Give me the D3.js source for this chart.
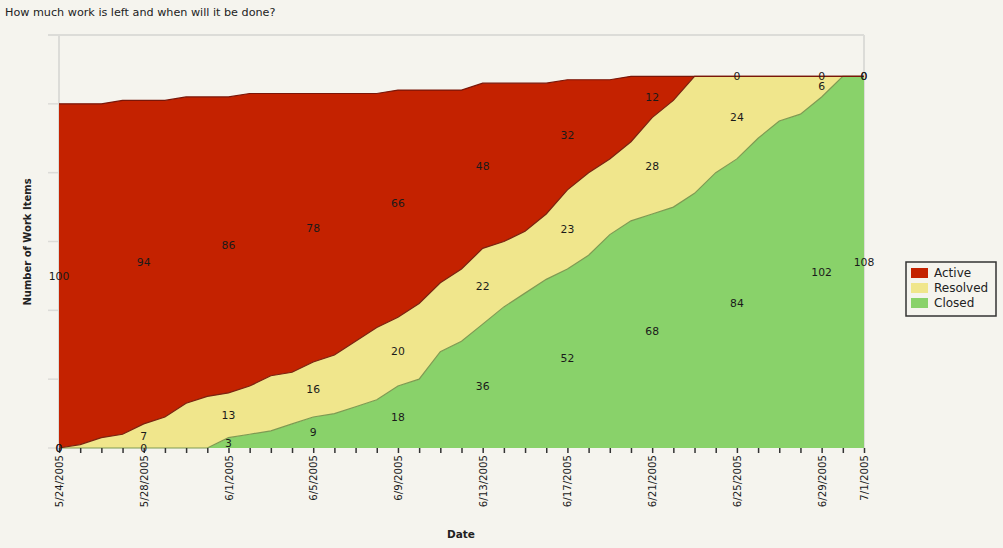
<!DOCTYPE html>
<html>
<head>
<meta charset="utf-8">
<script src="https://cdn.jsdelivr.net/npm/d3@7"></script>
<style>
  html, body { margin: 0; padding: 0; background: #F5F4EE; }
  svg { display: block; }
  text { font-family: "DejaVu Sans", Verdana, sans-serif; }
</style>
</head>
<body>
<svg id="chart" width="1003" height="548"></svg>
<script>
const title = "How much work is left and when will it be done?";
const categories = [
  "5/24/2005","5/25/2005","5/26/2005","5/27/2005","5/28/2005","5/29/2005","5/30/2005","5/31/2005",
  "6/1/2005","6/2/2005","6/3/2005","6/4/2005","6/5/2005","6/6/2005","6/7/2005","6/8/2005",
  "6/9/2005","6/10/2005","6/11/2005","6/12/2005","6/13/2005","6/14/2005","6/15/2005","6/16/2005",
  "6/17/2005","6/18/2005","6/19/2005","6/20/2005","6/21/2005","6/22/2005","6/23/2005","6/24/2005",
  "6/25/2005","6/26/2005","6/27/2005","6/28/2005","6/29/2005","6/30/2005","7/1/2005"
];
const active   = [100,99,97,97,94,92,89,87,86,85,82,81,78,76,72,68,66,62,56,52,48,46,43,38,32,27,23,19,12,7,0,0,0,0,0,0,0,0,0];
const resolved = [0,1,3,4,7,9,13,15,13,14,16,15,16,17,19,21,20,22,20,21,22,19,18,19,23,24,22,23,28,31,34,28,24,18,13,11,6,0,0];
const closed   = [0,0,0,0,0,0,0,0,3,4,5,7,9,10,12,14,18,20,28,31,36,41,45,49,52,56,62,66,68,70,74,80,84,90,95,97,102,108,108];
const tickLabels = ["5/24/2005","5/28/2005","6/1/2005","6/5/2005","6/9/2005","6/13/2005","6/17/2005","6/21/2005","6/25/2005","6/29/2005","7/1/2005"];
const yTicks = [0,20,40,60,80,100,120];
const seriesNames = ["Closed","Resolved","Active"];
const legendNames = ["Active","Resolved","Closed"];
const xTitle = "Date";
const yTitle = "Number of Work Items";

const fills = { Active: "#C42200", Resolved: "#F0E68C", Closed: "#89D26A" };
const strokes = { Active: "#7A1608", Resolved: "#7A2410", Closed: "#7E9A52" };

const svg = d3.select("#chart");
const x = d3.scalePoint().domain(categories).range([59, 864]);
const y = d3.scaleLinear().domain([0, 120]).range([448, 35]);

const table = categories.map((c, i) => ({ cat: c, Closed: closed[i], Resolved: resolved[i], Active: active[i] }));
const stacked = d3.stack().keys(seriesNames)(table);

// title
svg.append("text").attr("x", 5).attr("y", 16).attr("font-size", 11.2).attr("fill", "#222").text(title);

// frame: top border, right border, left axis line, y ticks
svg.append("line").attr("x1", 48).attr("x2", 864).attr("y1", y(120)).attr("y2", y(120)).attr("stroke", "#DCDCD8").attr("stroke-width", 2);
svg.append("line").attr("x1", 864).attr("x2", 864).attr("y1", y(120)).attr("y2", y(0)).attr("stroke", "#DCDCD8").attr("stroke-width", 2);
svg.append("line").attr("x1", 59).attr("x2", 59).attr("y1", y(120)).attr("y2", y(0)).attr("stroke", "#DCDCD8").attr("stroke-width", 2);
svg.append("g").selectAll("line").data(yTicks).join("line")
  .attr("x1", 48).attr("x2", 59).attr("y1", d => y(d)).attr("y2", d => y(d))
  .attr("stroke", "#DCDCD8").attr("stroke-width", 1.5);

// areas
const area = d3.area().x(d => x(d.data.cat)).y0(d => y(d[0])).y1(d => y(d[1]));
const topLine = d3.line().x(d => x(d.data.cat)).y(d => y(d[1]));
svg.append("g").selectAll("path").data(stacked).join("path")
  .attr("d", area).attr("fill", d => fills[d.key]);
svg.append("g").selectAll("path").data(stacked).join("path")
  .attr("d", topLine).attr("fill", "none").attr("stroke", d => strokes[d.key]).attr("stroke-width", 1.2);

// x axis
const xAxis = d3.axisBottom(x).tickSize(5).tickFormat(d => tickLabels.includes(d) ? d : "");
const gx = svg.append("g").attr("transform", `translate(0,${y(0)})`).call(xAxis);
gx.select(".domain").remove();
gx.selectAll(".tick line").attr("stroke", "#333").attr("stroke-width", 1.5);
gx.selectAll(".tick text")
  .attr("font-size", 10.2).attr("fill", "#1a1a1a")
  .attr("transform", "rotate(-90)")
  .attr("text-anchor", "end")
  .attr("x", -7).attr("y", 0).attr("dy", "0.35em");

// data labels
const labelled = tickLabels.map(t => categories.indexOf(t));
const gl = svg.append("g").attr("font-size", 10.8).attr("fill", "#1A1A1A").attr("text-anchor", "middle");
stacked.forEach(s => {
  labelled.forEach(i => {
    const d = s[i];
    gl.append("text")
      .attr("x", x(d.data.cat))
      .attr("y", y((d[0] + d[1]) / 2))
      .attr("dy", "0.35em")
      .text(d.data[s.key]);
  });
});

// axis titles
svg.append("text").attr("x", 461).attr("y", 538).attr("text-anchor", "middle")
  .attr("font-size", 10.5).attr("font-weight", "bold").attr("fill", "#222").text(xTitle);
svg.append("text").attr("transform", "translate(31,242) rotate(-90)").attr("text-anchor", "middle")
  .attr("font-size", 10).attr("font-weight", "bold").attr("fill", "#222").text(yTitle);

// legend
const lg = svg.append("g");
lg.append("rect").attr("x", 906).attr("y", 262).attr("width", 90).attr("height", 54)
  .attr("fill", "#F5F4EE").attr("stroke", "#333").attr("stroke-width", 1.5);
legendNames.forEach((n, k) => {
  lg.append("rect").attr("x", 911).attr("y", 268 + k * 15).attr("width", 17).attr("height", 10).attr("fill", fills[n]);
  lg.append("text").attr("x", 934).attr("y", 273 + k * 15).attr("dy", "0.35em")
    .attr("font-size", 12).attr("fill", "#222").text(n);
});
</script>
</body>
</html>
